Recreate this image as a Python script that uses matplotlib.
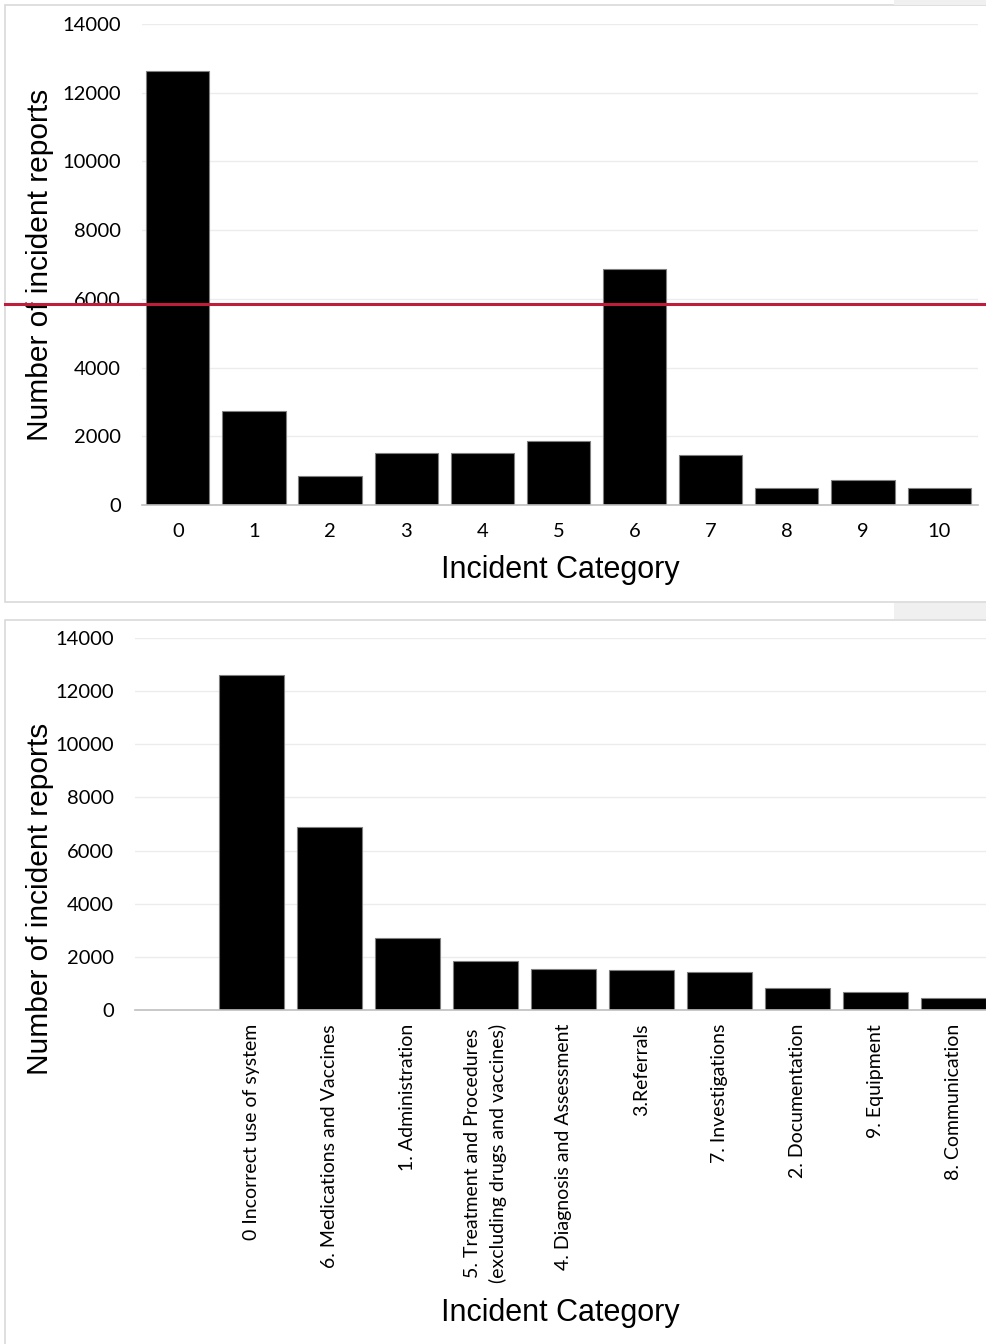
"""Incident reports per category: by code (top) and sorted by count (bottom)."""
import matplotlib
matplotlib.use("Agg")
import matplotlib.pyplot as plt
from matplotlib.patches import Rectangle
from matplotlib.lines import Line2D
import matplotlib.transforms as mtrans

# --- data ---
top_cats = ["0", "1", "2", "3", "4", "5", "6", "7", "8", "9", "10"]
top_counts = [12630, 2730, 840, 1510, 1520, 1860, 6880, 1450, 490, 720, 490]
threshold = 5850

bottom_cats = [
    "0 Incorrect use of system",
    "6. Medications and Vaccines",
    "1. Administration",
    "5. Treatment and Procedures\n(excluding drugs and vaccines)",
    "4. Diagnosis and Assessment",
    "3.Referrals",
    "7. Investigations",
    "2. Documentation",
    "9. Equipment",
    "8. Communication",
]
bottom_counts = [12620, 6880, 2710, 1850, 1550, 1510, 1440, 830, 680, 460]

yticks = [0, 2000, 4000, 6000, 8000, 10000, 12000, 14000]

TICK_FONT = ["Lato", "DejaVu Sans"]
LABEL_FONT = ["Liberation Sans", "DejaVu Sans"]
GRID, AXIS, BORDER, RED = "#ececec", "#bfbfbf", "#d9d9d9", "#be1e3c"

W, H = 986, 1344
fig = plt.figure(figsize=(W / 100, H / 100), dpi=100)


def px_axes(left, top, right, bottom):
    return fig.add_axes([left / W, 1 - bottom / H, (right - left) / W, (bottom - top) / H])


def style(ax):
    for s in ("top", "right", "left"):
        ax.spines[s].set_visible(False)
    ax.spines["bottom"].set_color(AXIS)
    ax.spines["bottom"].set_linewidth(1.2)
    ax.set_ylim(0, 14000)
    ax.set_yticks(yticks)
    ax.set_yticklabels([str(v) for v in yticks], family=TICK_FONT, fontsize=14.5)
    ax.yaxis.grid(True, color=GRID, lw=1)
    ax.set_axisbelow(True)
    ax.tick_params(length=0)
    ax.tick_params(axis="y", pad=15)


# panel frames and the grey screen strips
fig.add_artist(Rectangle((5 / W, 1 - 602 / H), 1.0, 597 / H, transform=fig.transFigure,
                         facecolor="white", edgecolor=BORDER, lw=1.2, zorder=0))
fig.add_artist(Rectangle((5 / W, -0.01), 1.0, 1 - 620 / H + 0.01, transform=fig.transFigure,
                         facecolor="white", edgecolor=BORDER, lw=1.2, zorder=0))
for y0, y1 in ((0, 5), (603, 619)):
    fig.add_artist(Rectangle((894 / W, 1 - y1 / H), 1.0, (y1 - y0) / H,
                             transform=fig.transFigure, facecolor="#f0f0f0",
                             edgecolor="none", zorder=0))

# --- top: by category code ---
ax1 = px_axes(142, 24, 978, 505)
x1 = range(len(top_cats))
ax1.bar(x1, top_counts, width=0.83, color="black", edgecolor="#7f7f7f", lw=0.8)
ax1.set_xlim(-0.47, 10.51)
ax1.set_xticks(list(x1))
ax1.set_xticklabels(top_cats, family=TICK_FONT, fontsize=14.5)
ax1.tick_params(axis="x", pad=13)
style(ax1)
ax1.set_xlabel("Incident Category", family=LABEL_FONT, fontsize=22, labelpad=11)
ax1.set_ylabel("Number of incident reports", family=LABEL_FONT, fontsize=21.5)
ax1.yaxis.set_label_coords(-0.105, 0.5)

# threshold line running across the whole panel
blend = mtrans.blended_transform_factory(fig.transFigure, ax1.transData)
fig.add_artist(Line2D([5 / W, 1.0], [threshold, threshold], transform=blend,
                      color=RED, lw=2.2, zorder=10))

# --- bottom: sorted by count ---
ax2 = px_axes(135, 638, 986, 1010)
x2 = range(len(bottom_cats))
ax2.bar(x2, bottom_counts, width=0.83, color="black", edgecolor="#7f7f7f", lw=0.8)
ax2.set_xlim(-1.49, 9.42)
ax2.set_xticks(list(x2))
ax2.set_xticklabels(bottom_cats, family=TICK_FONT, fontsize=14, rotation=90,
                    ha="center", va="top", linespacing=1.5)
ax2.tick_params(axis="x", pad=10)
style(ax2)
ax2.set_xlabel("Incident Category", family=LABEL_FONT, fontsize=22)
ax2.set_ylabel("Number of incident reports", family=LABEL_FONT, fontsize=21.5)
ax2.yaxis.set_label_coords(-0.095, 0.3)
ax2.xaxis.set_label_coords(0.5, -0.775)

fig.savefig("out.png", dpi=100)
